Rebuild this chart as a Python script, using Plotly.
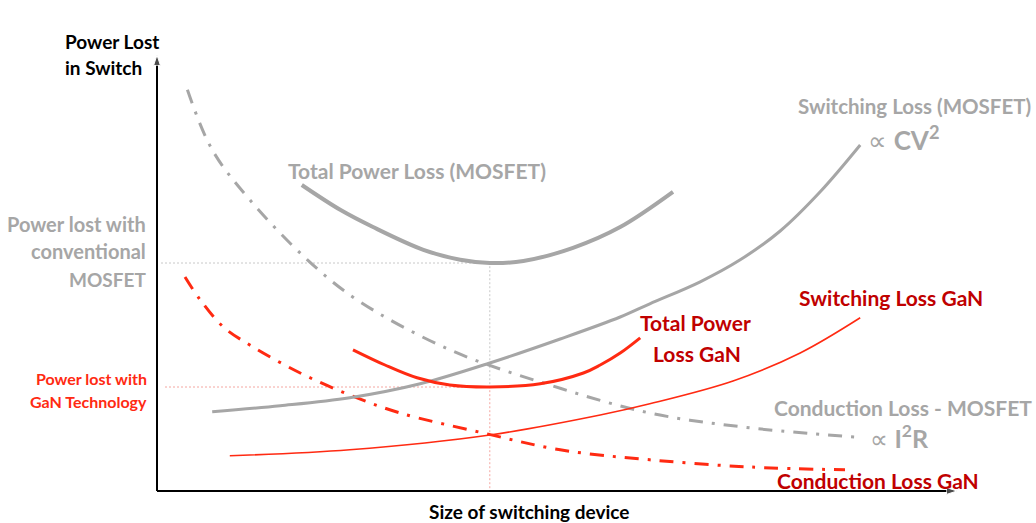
import plotly.graph_objects as go

# ---- data (conceptual units: x = device size, y = power lost) ----
cond_mosfet_x = [0.38, 0.69, 1.16, 1.88, 2.5, 3.66, 4.91, 6.16, 7.41, 8.73]
cond_mosfet_y = [10.03, 8.53, 7.28, 5.78, 4.78, 3.53, 2.65, 1.95, 1.58, 1.35]

cond_gan_x = [0.35, 0.54, 0.83, 1.16, 1.79, 2.41, 3.04, 4.08, 5.04, 6.16, 7.41, 8.6]
cond_gan_y = [5.35, 4.78, 4.1, 3.65, 2.95, 2.4, 1.95, 1.45, 1.03, 0.78, 0.6, 0.53]

sw_mosfet_x = [0.69, 1.54, 2.41, 3.29, 4.16, 5.04, 5.79, 6.16, 6.79, 7.29, 7.79, 8.29, 8.79]
sw_mosfet_y = [1.98, 2.13, 2.33, 2.68, 3.2, 3.8, 4.35, 4.68, 5.23, 5.78, 6.5, 7.48, 8.65]

sw_gan_x = [0.91, 2.41, 4.16, 5.54, 6.16, 7.2, 8.04, 8.79]
sw_gan_y = [0.88, 1.03, 1.4, 1.9, 2.18, 2.75, 3.45, 4.33]

tot_mosfet_x = [1.81, 2.29, 2.7, 3.33, 3.79, 4.16, 4.58, 5.2, 5.79, 6.45]
tot_mosfet_y = [7.65, 7.03, 6.6, 6.03, 5.78, 5.7, 5.75, 6.08, 6.6, 7.48]

tot_gan_x = [2.45, 2.85, 3.25, 3.66, 4.16, 4.79, 5.33, 5.54, 5.79, 6.04]
tot_gan_y = [3.53, 3.15, 2.83, 2.65, 2.6, 2.68, 2.95, 3.15, 3.45, 3.83]

x_axis_max = 10.0
y_axis_max = 10.9

GRAY = "#a6a6a6"
RED = "#ff2a12"
DARK_RED = "#c00000"
FONT = "Lato"

W, H = 1036, 523
# origin of the drawn axes at pixel (157, 491); 80 px per x unit, 40 px per y unit
X0, Y0, SX, SY = 157, 491, 80.0, 40.0
x_range = [-X0 / SX, (W - X0) / SX]
y_range = [-(H - Y0) / SY, Y0 / SY]

fig = go.Figure()

def line(x, y, color, width, dash=None):
    fig.add_trace(go.Scatter(x=x, y=y, mode="lines", hoverinfo="skip",
                             line=dict(color=color, width=width, shape="spline",
                                       smoothing=1.0, dash=dash)))

# guide lines at the minima of the total-loss curves
m_lvl = min(tot_mosfet_y)
g_lvl = min(tot_gan_y)
x_opt = tot_mosfet_x[tot_mosfet_y.index(m_lvl)]
fig.add_trace(go.Scatter(x=[0.05, x_opt, x_opt], y=[m_lvl, m_lvl, g_lvl], mode="lines",
                         hoverinfo="skip", line=dict(color="#c8c8c8", width=1, dash="2px,2px")))
fig.add_trace(go.Scatter(x=[0.1, x_opt, x_opt], y=[g_lvl, g_lvl, 0], mode="lines",
                         hoverinfo="skip", line=dict(color="#f4a6a0", width=1, dash="2px,2px")))

line(cond_mosfet_x, cond_mosfet_y, GRAY, 3, "14px,9px,3px,9px")
line(cond_gan_x, cond_gan_y, RED, 3, "14px,9px,3px,9px")
line(sw_mosfet_x, sw_mosfet_y, GRAY, 3)
line(sw_gan_x, sw_gan_y, RED, 1.6)
line(tot_mosfet_x, tot_mosfet_y, GRAY, 4)
line(tot_gan_x, tot_gan_y, RED, 3)

# axes with arrow heads
for ax_x, ax_y in (([0, 0], [0, y_axis_max]), ([0, x_axis_max], [0, 0])):
    fig.add_trace(go.Scatter(x=ax_x, y=ax_y, mode="lines+markers", hoverinfo="skip",
                             line=dict(color="#000000", width=2),
                             marker=dict(symbol=["circle", "arrow"], size=[0, 11],
                                         angleref="previous", color="#000000")))

ann = []

def txt(s, px, py, color, size, anchor="left"):
    ann.append(dict(text=s, x=px / W, y=1 - py / H, xref="paper", yref="paper",
                    xanchor=anchor, yanchor="middle", showarrow=False,
                    font=dict(family=FONT, size=size, color=color)))

txt("<b>Power Lost</b>", 63, 42, "#000000", 19)
txt("<b>in Switch</b>", 63, 68, "#000000", 19)
txt("<b>Total Power Loss (MOSFET)</b>", 286, 170, GRAY, 21)
txt("<b>Power lost with</b>", 148, 224, GRAY, 20, "right")
txt("<b>conventional</b>", 148, 251, GRAY, 20, "right")
txt("<b>MOSFET</b>", 148, 279, GRAY, 19, "right")
txt("<b>Power lost with</b>", 149, 378, RED, 16, "right")
txt("<b>GaN Technology</b>", 149, 401, RED, 16, "right")
txt("<b>Switching Loss (MOSFET)</b>", 796, 106, GRAY, 20.5)
txt("\u221d <b>CV<sup>2</sup></b>", 866, 138, GRAY, 26)
txt("<b>Switching Loss GaN</b>", 797, 297, DARK_RED, 21)
txt("<b>Total Power</b>", 695, 322, DARK_RED, 21, "center")
txt("<b>Loss GaN</b>", 697, 353, DARK_RED, 21, "center")
txt("<b>Conduction Loss - MOSFET</b>", 772, 407, GRAY, 21)
txt("\u221d <b>I<sup>2</sup>R</b>", 868, 436, GRAY, 25)
txt("<b>Conduction Loss GaN</b>", 775, 480, DARK_RED, 21)
txt("<b>Size of switching device</b>", 529, 511, "#000000", 19, "center")

fig.update_layout(
    width=W, height=H, margin=dict(l=0, r=0, t=0, b=0),
    plot_bgcolor="white", paper_bgcolor="white", showlegend=False,
    xaxis=dict(range=x_range, visible=False, fixedrange=True),
    yaxis=dict(range=y_range, visible=False, fixedrange=True),
    annotations=ann,
)
fig.write_html("out.html", config={"displayModeBar": False},
               post_script="document.body.style.margin='0px';")
